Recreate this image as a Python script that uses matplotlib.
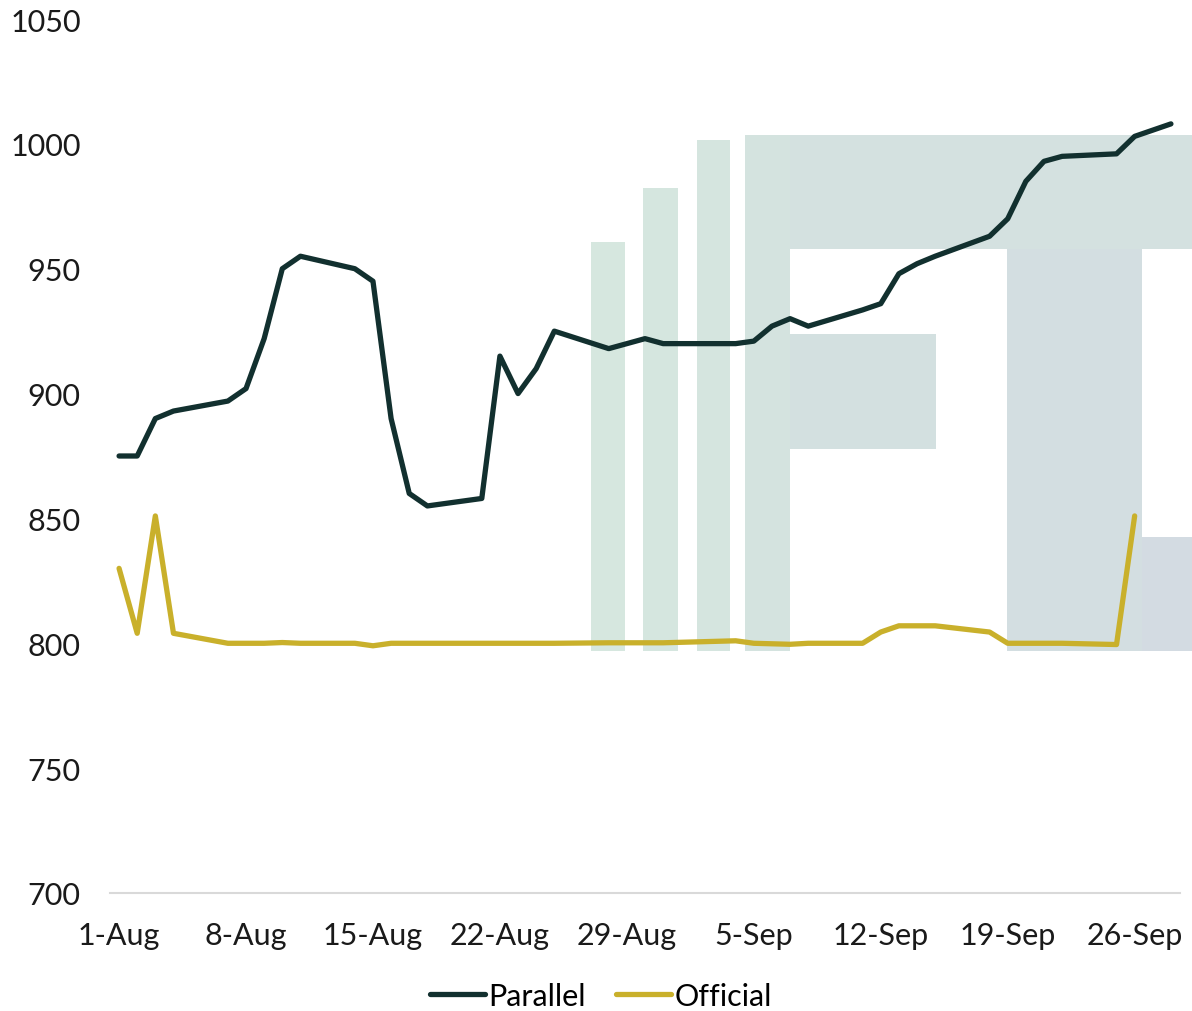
import pandas as pd
import matplotlib
matplotlib.use("Agg")
import matplotlib.pyplot as plt
import matplotlib.dates as mdates
from matplotlib.patches import Rectangle
from matplotlib.ticker import FuncFormatter

# Parallel vs official rate, Aug-Sep (trading days only)
parallel_dates = [
    "2017-08-01", "2017-08-02", "2017-08-03", "2017-08-04", "2017-08-07", "2017-08-08",
    "2017-08-09", "2017-08-10", "2017-08-11", "2017-08-14", "2017-08-15", "2017-08-16",
    "2017-08-17", "2017-08-18", "2017-08-21", "2017-08-22", "2017-08-23", "2017-08-24",
    "2017-08-25", "2017-08-28", "2017-08-29", "2017-08-30", "2017-08-31", "2017-09-01",
    "2017-09-04", "2017-09-05", "2017-09-06", "2017-09-07", "2017-09-08", "2017-09-11",
    "2017-09-12", "2017-09-13", "2017-09-14", "2017-09-15", "2017-09-18", "2017-09-19",
    "2017-09-20", "2017-09-21", "2017-09-22", "2017-09-25", "2017-09-26", "2017-09-27",
    "2017-09-28",
]
parallel_vals = [
    875, 875, 890, 893, 897, 902, 922, 950, 955, 950, 945, 890, 860, 855, 858, 915, 900,
    910, 925, 918, 920, 922, 920, 920, 920, 921, 927, 930, 927, 933.5, 936, 948, 952, 955,
    963, 970, 985, 993, 995, 996, 1003, 1005.5, 1008,
]

official_dates = parallel_dates[:41]
official_vals = [
    830, 804, 851, 804, 800, 800, 800, 800.3, 800, 800, 799, 800, 800, 800, 800, 800, 800,
    800, 800, 800.2, 800.2, 800.2, 800.2, 800.4, 801, 800, 799.8, 799.6, 800, 800, 804.5,
    807, 807, 807, 804.5, 800, 800, 800, 800, 799.5, 851,
]

y_ticks = [700, 750, 800, 850, 900, 950, 1000, 1050]

PARALLEL_COLOR = "#12302f"
OFFICIAL_COLOR = "#c9b02b"

plt.rcParams["font.family"] = ["Lato", "DejaVu Sans"]

W, H = 1192, 1012
fig = plt.figure(figsize=(W / 100, H / 100), dpi=100)
ax = fig.add_axes([110 / W, 1 - 894 / H, 1070 / W, 874 / H])
ax.patch.set_facecolor("none")

# faint logo watermark behind the plot, (x0, y0, x1, y1) in pixels
watermark = [
    (591, 243, 625, 652, "#d6e7df"),
    (643, 189, 678, 652, "#d5e6df"),
    (697, 141, 730, 652, "#d5e5df"),
    (745, 136, 790, 652, "#d4e3df"),
    (790, 136, 1192, 250, "#d4e1e0"),
    (790, 335, 936, 450, "#d3e0e0"),
    (1007, 250, 1142, 652, "#d3dee1"),
    (1142, 538, 1192, 652, "#d3dbe2"),
]
for x0, y0, x1, y1, c in watermark:
    fig.add_artist(Rectangle((x0 / W, 1 - y1 / H), (x1 - x0) / W, (y1 - y0) / H,
                             transform=fig.transFigure, facecolor=c, edgecolor="none",
                             zorder=-1))

px = pd.to_datetime(parallel_dates)
ox = pd.to_datetime(official_dates)
lw = 3.8
ax.plot(px, parallel_vals, color=PARALLEL_COLOR, lw=lw, label="Parallel",
        solid_joinstyle="round", solid_capstyle="round")
ax.plot(ox, official_vals, color=OFFICIAL_COLOR, lw=lw, label="Official",
        solid_joinstyle="round", solid_capstyle="round")

start = pd.Timestamp("2017-08-01")
ax.set_xlim(start - pd.Timedelta(hours=12), pd.Timestamp("2017-09-28") + pd.Timedelta(hours=12))
ax.set_ylim(700, 1050)
ax.set_yticks(y_ticks)
ax.set_xticks(pd.date_range(start, periods=9, freq="7D"))
ax.xaxis.set_major_formatter(FuncFormatter(lambda v, _: f"{mdates.num2date(v).day}-{mdates.num2date(v):%b}"))

for s in ["top", "right", "left"]:
    ax.spines[s].set_visible(False)
ax.spines["bottom"].set_color("#d9d9d9")
ax.spines["bottom"].set_linewidth(1.5)
ax.tick_params(axis="both", length=0, labelsize=22, colors="#1a1a1a")
ax.tick_params(axis="y", pad=21)
ax.tick_params(axis="x", pad=20)

fig.legend(loc="center", bbox_to_anchor=(601 / W, 1 - 997 / H), ncol=2, frameon=False,
           fontsize=22, handlelength=1.8, handletextpad=0.1, columnspacing=1.0)

fig.savefig("out.png", dpi=100)
